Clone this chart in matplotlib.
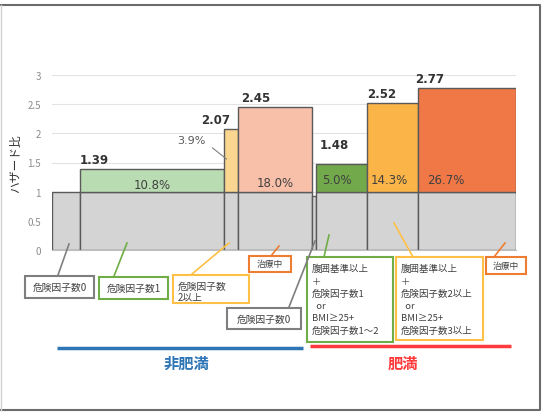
import matplotlib
matplotlib.use("Agg")
from matplotlib import pyplot as plt
from matplotlib.patches import Rectangle

plt.rcParams['font.family'] = ['Noto Sans CJK JP', 'DejaVu Sans']

# data
groups = ['非肥満'] * 4 + ['肥満'] * 4
categories = ['危険因子数0', '危険因子数1', '危険因子数2以上', '治療中',
              '危険因子数0', '危険因子数1', '危険因子数2以上', '治療中']
widths = [28, 143.5, 14, 74.5, 4, 51, 51, 98]
hazard = [1.0, 1.39, 2.07, 2.45, 0.93, 1.48, 2.52, 2.77]
shares = ['', '10.8%', '3.9%', '18.0%', '', '5.0%', '14.3%', '26.7%']
top_colors = ['#d4d4d4', '#b9dcb2', '#fad691', '#f8bfa9',
              '#d4d4d4', '#72a94b', '#fbb447', '#f07847']
box_texts = ['危険因子数0', '危険因子数1', '危険因子数\n2以上', '治療中', '危険因子数0',
             '腹囲基準以上\n＋\n危険因子数1\n  or\nBMI≥25+\n危険因子数1～2',
             '腹囲基準以上\n＋\n危険因子数2以上\n  or\nBMI≥25+\n危険因子数3以上',
             '治療中']
box_colors = ['#7f7f7f', '#70ad47', '#ffc046', '#ed7d31',
              '#7f7f7f', '#70ad47', '#ffc046', '#ed7d31']

W, H = 546, 414
fig = plt.figure(figsize=(W / 100, H / 100), dpi=100)

# overlay in pixel coordinates for the frame, call-out boxes and group bars
ov = fig.add_axes([0, 0, 1, 1], zorder=3)
ov.set_xlim(0, W)
ov.set_ylim(H, 0)
ov.axis('off')
ov.patch.set_alpha(0)

ax = fig.add_axes([52 / W, (H - 251) / H, 464 / W, 175 / H], zorder=2)
ax.set_ylim(0, 3)
ax.set_xlim(0, sum(widths))
ax.set_yticks([0, 0.5, 1, 1.5, 2, 2.5, 3])
ax.set_yticklabels(['0', '0.5', '1', '1.5', '2', '2.5', '3'])
ax.tick_params(axis='y', length=0, labelsize=7, labelcolor='#8c8c8c', pad=8)
ax.set_xticks([])
ax.grid(axis='y', color='#e3e3e3', lw=0.8)
ax.set_axisbelow(True)
for s in ['top', 'right', 'left']:
    ax.spines[s].set_visible(False)
ax.spines['bottom'].set_color('#bfbfbf')
ax.set_ylabel('ハザード比', fontsize=8.5, color='#333333', labelpad=4)

edge = '#5a5a5a'
left = 0
lefts = []
for i, (w, h) in enumerate(zip(widths, hazard)):
    lefts.append(left)
    base = min(h, 1.0)
    ax.bar(left, base, width=w, align='edge', color='#d4d4d4', edgecolor=edge, lw=1)
    if h > 1.0:
        ax.bar(left, h - 1.0, bottom=1.0, width=w, align='edge',
               color=top_colors[i], edgecolor=edge, lw=1)
    left += w

# value labels
lab = dict(fontsize=8.5, fontweight='bold', color='#333333', family=['DejaVu Sans'])
ax.text(lefts[1], hazard[1] + 0.05, f'{hazard[1]:.2f}', ha='left', va='bottom', **lab)
ax.text(lefts[2] + widths[2] - 7, hazard[2] + 0.05, f'{hazard[2]:.2f}', ha='right', va='bottom', **lab)
ax.text(lefts[3] + 4, hazard[3] + 0.05, f'{hazard[3]:.2f}', ha='left', va='bottom', **lab)
ax.text(lefts[5] + 4, hazard[5] + 0.22, f'{hazard[5]:.2f}', ha='left', va='bottom', **lab)
ax.text(lefts[6], hazard[6] + 0.05, f'{hazard[6]:.2f}', ha='left', va='bottom', **lab)
ax.text(lefts[7] - 3, hazard[7] + 0.05, f'{hazard[7]:.2f}', ha='left', va='bottom', **lab)

# share labels
pct = dict(fontsize=8.5, color='#404040', va='center', family=['DejaVu Sans'])
ax.text(lefts[1] + widths[1] / 2, 1.12, shares[1], ha='center', **pct)
ax.text(lefts[3] + widths[3] / 2, 1.16, shares[3], ha='center', **pct)
ax.text(lefts[5] + 6, 1.2, shares[5], ha='left', **pct)
ax.text(lefts[6] + 4, 1.2, shares[6], ha='left', **pct)
ax.text(lefts[7] + 9, 1.2, shares[7], ha='left', **pct)
ax.text(lefts[2] - 18, 1.89, shares[2], ha='right', fontsize=8, color='#595959',
        va='center', family=['DejaVu Sans'])
ax.plot([lefts[2] - 11, lefts[2] + 3], [1.75, 1.56], color='#808080', lw=0.8)

# call-out boxes: (x0, y0, x1, y1) in pixels, leader (from, to)
boxes = [(25, 277, 94, 299), (99, 278, 168, 300), (173, 276, 249, 304),
         (249, 257, 291, 273), (227, 309, 301, 330), (307, 258, 393, 343),
         (396, 258, 483, 341), (486, 258, 526, 275)]
leaders = [((69, 245), (58, 276)), ((127, 244), (114, 277)),
           ((229, 244), (192, 275)), ((279, 247), (271, 257)),
           ((315, 242), (289, 308)), ((329, 236), (324, 258)),
           ((394, 224), (413, 258)), ((505, 244), (494, 258))]
for i, ((x0, y0, x1, y1), (p, q)) in enumerate(zip(boxes, leaders)):
    c = box_colors[i]
    ov.plot([p[0], q[0]], [p[1], q[1]], color=c, lw=1.2)
    ov.add_patch(Rectangle((x0, y0), x1 - x0, y1 - y0, fill=True, facecolor='white',
                           edgecolor=c, lw=1.5))
    txt = box_texts[i]
    if '\n' not in txt:
        ov.text((x0 + x1) / 2, (y0 + y1) / 2, txt, ha='center', va='center',
                fontsize=7 if i != 3 and i != 7 else 6.3, color='#404040')
    else:
        for j, line in enumerate(txt.split('\n')):
            step = 12.4 if len(txt.split('\n')) > 2 else 11
            ov.text(x0 + 5, y0 + 11 + j * step, line, ha='left', va='center',
                    fontsize=7 if len(txt.split('\n')) == 2 else 6.8, color='#404040')

# group underlines
ov.plot([57, 303], [349, 349], color='#2e75b6', lw=2.5, solid_capstyle='butt')
ov.plot([310, 511], [347, 347], color='#ff3b3b', lw=2.5, solid_capstyle='butt')
ov.text(186, 364, groups[0], ha='center', va='center', fontsize=11,
        fontweight='bold', color='#2e75b6')
ov.text(403, 364, groups[4], ha='center', va='center', fontsize=11,
        fontweight='bold', color='#ff3b3b')

# outer frame
ov.plot([0.5, 540, 540, 0.5], [6, 6, 411.5, 411.5], color='#6b6b6b', lw=1.5)
ov.plot([0.5, 0.5], [6, 411.5], color='#d0d0d0', lw=1)

fig.savefig('out.png', dpi=100)
